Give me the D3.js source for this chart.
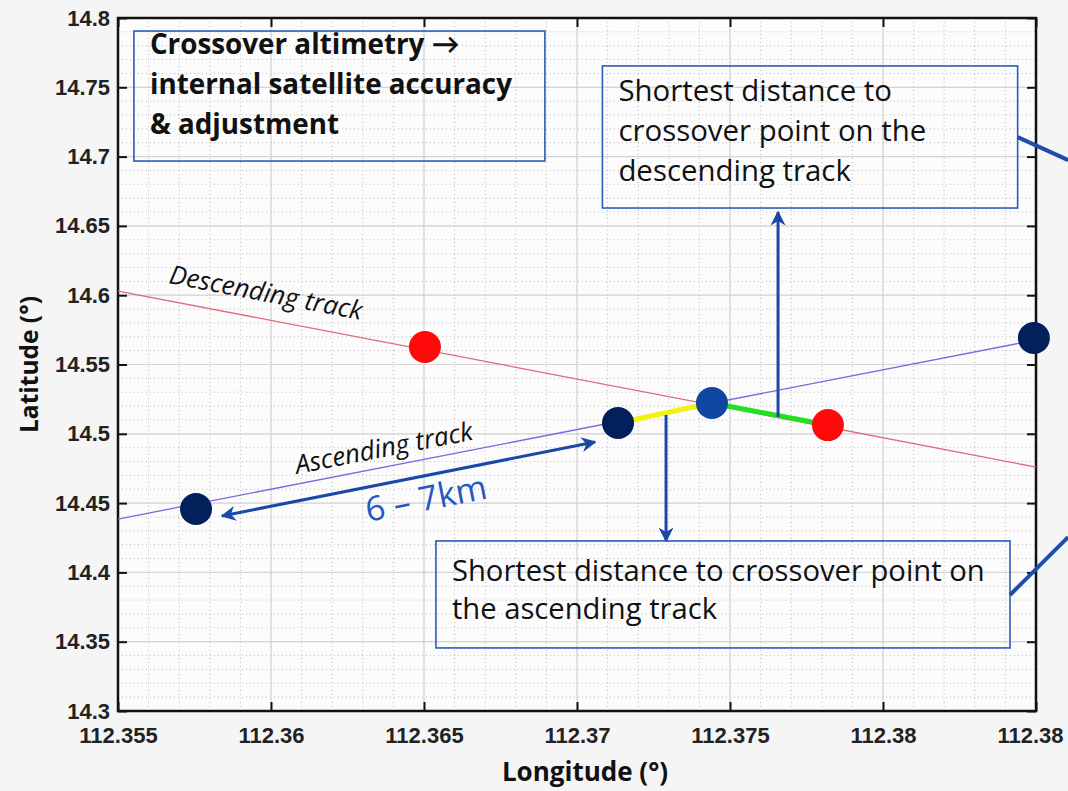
<!DOCTYPE html>
<html>
<head>
<meta charset="utf-8">
<script src="https://cdn.jsdelivr.net/npm/d3@7"></script>
<style>
  html, body { margin: 0; padding: 0; background: #f5f5f5; }
  svg { display: block; }
</style>
</head>
<body>
<div id="chart"></div>
<script>
// axis ticks
const lonTicks = [112.355, 112.36, 112.365, 112.37, 112.375, 112.38, 112.385];
const lonTickLabels = ["112.355", "112.36", "112.365", "112.37", "112.375", "112.38", "112.38"];
const latTicks = [14.3, 14.35, 14.4, 14.45, 14.5, 14.55, 14.6, 14.65, 14.7, 14.75, 14.8];
const latTickLabels = ["14.3", "14.35", "14.4", "14.45", "14.5", "14.55", "14.6", "14.65", "14.7", "14.75", "14.8"];

// tracks (lon, lat)
const descendingTrack = [[112.355, 14.603], [112.385, 14.476]];
const ascendingTrack = [[112.355, 14.4385], [112.385, 14.5677]];

// observation points
const ascendingPoints = [[112.35755, 14.4457], [112.37134, 14.5078], [112.38493, 14.5691]];
const descendingPoints = [[112.36503, 14.5626], [112.3782, 14.5063]];
const crossoverPoint = [112.37441, 14.5222];

// shortest-distance segments
const ascSegment = [ascendingPoints[1], crossoverPoint];
const descSegment = [crossoverPoint, descendingPoints[1]];

// annotation arrows
const distanceArrow = [[112.3584, 14.4407], [112.37059, 14.4941]];
const upArrow = [[112.37657, 14.5121], [112.37657, 14.6600]];
const downArrow = [[112.37291, 14.5136], [112.37291, 14.4227]];

// text boxes: [lon0, lat0, lon1, lat1]
const titleBox = [112.35552, 14.7906, 112.36895, 14.6968];
const descBox = [112.37083, 14.7654, 112.38440, 14.6629];
const ascBox = [112.36539, 14.4227, 112.38415, 14.3455];
const titleLines = ["Crossover altimetry \u2192", "internal satellite accuracy", "& adjustment"];
const descLines = ["Shortest distance to", "crossover point on the", "descending track"];
const ascLines = ["Shortest distance to crossover point on", "the ascending track"];
const descConnector = [[112.3844, 14.7141], [112.38605, 14.6975]];
const ascConnector = [[112.38415, 14.3837], [112.38605, 14.4255]];

const width = 1068, height = 791;
const margin = { top: 18, right: 32, bottom: 80, left: 118 };

const x = d3.scaleLinear().domain([112.355, 112.385]).range([margin.left, width - margin.right]);
const y = d3.scaleLinear().domain([14.3, 14.8]).range([height - margin.bottom, margin.top]);

const svg = d3.select("#chart").append("svg")
  .attr("width", width)
  .attr("height", height);

svg.append("rect").attr("width", width).attr("height", height).attr("fill", "#f5f5f5");

// plot area
svg.append("rect")
  .attr("x", x(112.355)).attr("y", y(14.8))
  .attr("width", x(112.385) - x(112.355))
  .attr("height", y(14.3) - y(14.8))
  .attr("fill", "#fcfcfc");

// minor grid
const grid = svg.append("g");
const minorLon = d3.range(112.355, 112.3851, 0.001);
const minorLat = d3.range(14.3, 14.8001, 0.01);
grid.selectAll(".mx").data(minorLon).enter().append("line")
  .attr("x1", d => x(d)).attr("x2", d => x(d))
  .attr("y1", y(14.8)).attr("y2", y(14.3))
  .attr("stroke", "#a8a8a8").attr("stroke-width", 0.8)
  .attr("stroke-dasharray", "1,3");
grid.selectAll(".my").data(minorLat).enter().append("line")
  .attr("y1", d => y(d)).attr("y2", d => y(d))
  .attr("x1", x(112.355)).attr("x2", x(112.385))
  .attr("stroke", "#a8a8a8").attr("stroke-width", 0.8)
  .attr("stroke-dasharray", "1,3");

// major grid
grid.selectAll(".gx").data(lonTicks).enter().append("line")
  .attr("x1", d => x(d)).attr("x2", d => x(d))
  .attr("y1", y(14.8)).attr("y2", y(14.3))
  .attr("stroke", "#d4d4d4").attr("stroke-width", 1.2);
grid.selectAll(".gy").data(latTicks).enter().append("line")
  .attr("y1", d => y(d)).attr("y2", d => y(d))
  .attr("x1", x(112.355)).attr("x2", x(112.385))
  .attr("stroke", "#d4d4d4").attr("stroke-width", 1.2);

// axes (ticks inside, mirrored on all sides)
const tickLen = 9;
const axisFont = "'Liberation Sans', Arial, sans-serif";
const xAxisB = d3.axisBottom(x).tickValues(lonTicks).tickSize(-tickLen).tickPadding(16)
  .tickFormat((d, i) => lonTickLabels[i]);
const xAxisT = d3.axisTop(x).tickValues(lonTicks).tickSize(-tickLen).tickFormat("");
const yAxisL = d3.axisLeft(y).tickValues(latTicks).tickSize(-tickLen).tickPadding(8)
  .tickFormat((d, i) => latTickLabels[i]);
const yAxisR = d3.axisRight(y).tickValues(latTicks).tickSize(-tickLen).tickFormat("");

function styleAxis(g) {
  g.select(".domain").remove();
  g.selectAll(".tick line").attr("stroke", "#111").attr("stroke-width", 2);
  g.selectAll(".tick text")
    .attr("fill", "#222")
    .style("font-family", axisFont)
    .style("font-size", "22px")
    .style("font-weight", "bold");
}
const xAxisG = svg.append("g").attr("transform", `translate(0,${y(14.3)})`).call(xAxisB).call(styleAxis);
// last label sits a little left so it stays inside the page
xAxisG.selectAll(".tick text").filter((d, i) => i === lonTicks.length - 1).attr("dx", -6);
svg.append("g").attr("transform", `translate(0,${y(14.8)})`).call(xAxisT).call(styleAxis);
svg.append("g").attr("transform", `translate(${x(112.355)},0)`).call(yAxisL).call(styleAxis);
svg.append("g").attr("transform", `translate(${x(112.385)},0)`).call(yAxisR).call(styleAxis);

// frame
svg.append("rect")
  .attr("x", x(112.355)).attr("y", y(14.8))
  .attr("width", x(112.385) - x(112.355))
  .attr("height", y(14.3) - y(14.8))
  .attr("fill", "none").attr("stroke", "#111").attr("stroke-width", 2.5);

// axis labels
const labelFont = "'Open Sans', Lato, sans-serif";
svg.append("text")
  .attr("x", 585).attr("y", 781)
  .attr("text-anchor", "middle")
  .style("font-family", labelFont).style("font-size", "26px").style("font-weight", "bold")
  .attr("fill", "#111")
  .text("Longitude (\u00b0)");
svg.append("text")
  .attr("transform", `translate(38,${(y(14.3) + y(14.8)) / 2}) rotate(-90)`)
  .attr("text-anchor", "middle")
  .style("font-family", labelFont).style("font-size", "24.5px").style("font-weight", "bold")
  .attr("fill", "#111")
  .text("Latitude (\u00b0)");

const line = d3.line().x(d => x(d[0])).y(d => y(d[1]));

// tracks
svg.append("path").datum(descendingTrack).attr("d", line)
  .attr("stroke", "#e06a78").attr("stroke-width", 1.3).attr("fill", "none");
svg.append("path").datum(ascendingTrack).attr("d", line)
  .attr("stroke", "#7a6ae0").attr("stroke-width", 1.3).attr("fill", "none");

// track labels, rotated along the tracks
function trackAngle(track) {
  const dx = x(track[1][0]) - x(track[0][0]);
  const dy = y(track[1][1]) - y(track[0][1]);
  return Math.atan2(dy, dx) * 180 / Math.PI;
}
svg.append("text")
  .attr("transform", `translate(${x(112.35663)},${y(14.6088)}) rotate(${trackAngle(descendingTrack)})`)
  .style("font-family", labelFont).style("font-size", "26px").style("font-style", "italic")
  .attr("fill", "#111")
  .text("Descending track");
svg.append("text")
  .attr("transform", `translate(${x(112.36085)},${y(14.471)}) rotate(${trackAngle(ascendingTrack)})`)
  .style("font-family", labelFont).style("font-size", "26px").style("font-style", "italic")
  .attr("fill", "#111")
  .text("Ascending track");

// shortest-distance segments
svg.append("path").datum(ascSegment).attr("d", line)
  .attr("stroke", "#f2f20a").attr("stroke-width", 5).attr("fill", "none");
svg.append("path").datum(descSegment).attr("d", line)
  .attr("stroke", "#22e022").attr("stroke-width", 5).attr("fill", "none");

// arrow markers
const arrowBlue = "#1a48a6";
const defs = svg.append("defs");
defs.append("marker")
  .attr("id", "arrow").attr("viewBox", "0 0 10 10")
  .attr("refX", 9).attr("refY", 5)
  .attr("markerWidth", 5).attr("markerHeight", 5)
  .attr("orient", "auto-start-reverse")
  .append("path").attr("d", "M0,0 L10,5 L0,10 L3,5 Z").attr("fill", arrowBlue);

svg.append("path").datum(distanceArrow).attr("d", line)
  .attr("stroke", arrowBlue).attr("stroke-width", 3).attr("fill", "none")
  .attr("marker-start", "url(#arrow)").attr("marker-end", "url(#arrow)");
svg.append("path").datum(upArrow).attr("d", line)
  .attr("stroke", arrowBlue).attr("stroke-width", 3).attr("fill", "none")
  .attr("marker-end", "url(#arrow)");
svg.append("path").datum(downArrow).attr("d", line)
  .attr("stroke", arrowBlue).attr("stroke-width", 3).attr("fill", "none")
  .attr("marker-end", "url(#arrow)");

// distance label
svg.append("text")
  .attr("transform", `translate(${x(112.36317)},${y(14.4364)}) rotate(${trackAngle(distanceArrow)})`)
  .style("font-family", labelFont).style("font-size", "34px")
  .attr("fill", "#2458c0")
  .text("6 \u2013 7km");

// points
const r = 16;
svg.selectAll(".asc").data(ascendingPoints).enter().append("circle")
  .attr("cx", d => x(d[0])).attr("cy", d => y(d[1])).attr("r", r)
  .attr("fill", "#02205a");
svg.selectAll(".desc").data(descendingPoints).enter().append("circle")
  .attr("cx", d => x(d[0])).attr("cy", d => y(d[1])).attr("r", r)
  .attr("fill", "#ff0a0a");
svg.append("circle")
  .attr("cx", x(crossoverPoint[0])).attr("cy", y(crossoverPoint[1])).attr("r", r)
  .attr("fill", "#0d47a1");

// text boxes
const boxBlue = "#2a5cba";
function textBox(box, lines, opts) {
  const x0 = x(box[0]), y0 = y(box[1]);
  const g = svg.append("g");
  g.append("rect")
    .attr("x", x0).attr("y", y0)
    .attr("width", x(box[2]) - x0).attr("height", y(box[3]) - y0)
    .attr("fill", "none").attr("stroke", boxBlue).attr("stroke-width", 1.6);
  g.selectAll("text").data(lines).enter().append("text")
    .attr("x", x0 + 16)
    .attr("y", (d, i) => y0 + opts.first + i * opts.step)
    .style("font-family", labelFont)
    .style("font-size", opts.size + "px")
    .style("font-weight", opts.weight)
    .attr("fill", "#111")
    .text(d => d);
}
textBox(titleBox, titleLines, { first: 23, step: 40, size: 27.8, weight: "bold" });
textBox(descBox, descLines, { first: 35, step: 40, size: 29.4, weight: "normal" });
textBox(ascBox, ascLines, { first: 40, step: 38, size: 29.2, weight: "normal" });

// connectors running off the right edge
svg.append("path").datum(descConnector).attr("d", line)
  .attr("stroke", "#1f4ea8").attr("stroke-width", 4).attr("fill", "none");
svg.append("path").datum(ascConnector).attr("d", line)
  .attr("stroke", "#1f4ea8").attr("stroke-width", 4).attr("fill", "none");
</script>
</body>
</html>
